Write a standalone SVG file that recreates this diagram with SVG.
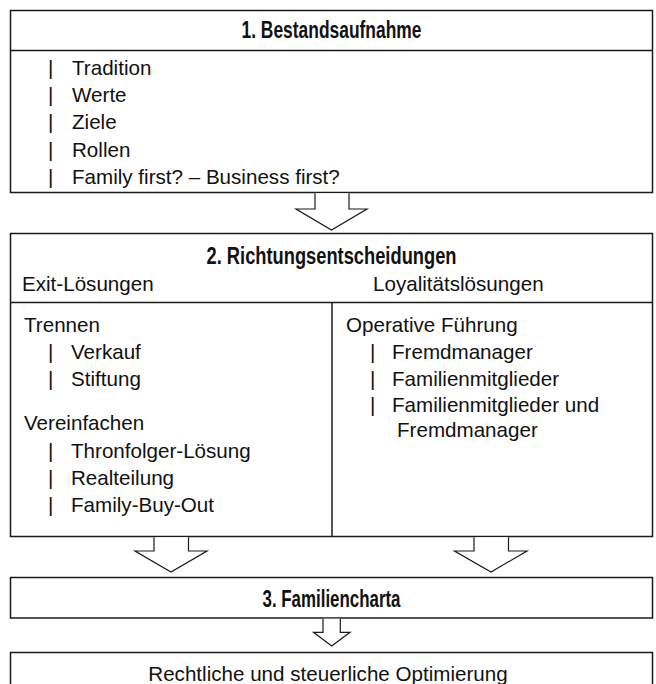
<svg xmlns="http://www.w3.org/2000/svg" width="656" height="684" viewBox="0 0 656 684">
<style>
.box{fill:#fff;stroke:#1a1a1a;stroke-width:1.5}
.ln{stroke:#1a1a1a;stroke-width:1.5;fill:none}
.arr{fill:#fff;stroke:#1a1a1a;stroke-width:1.2;stroke-linejoin:miter}
.t{font-family:"Liberation Sans",Arial,sans-serif;font-size:20.6px;fill:#111}
.h{font-family:"Liberation Sans Narrow","Liberation Sans",Arial,sans-serif;font-size:23px;font-weight:bold;fill:#111;text-anchor:middle}
</style>
<rect width="656" height="684" fill="#fff"/>
<g id="node-bestandsaufnahme">
<rect class="box" x="10.5" y="10.5" width="642" height="182"/>
<line class="ln" x1="10.5" y1="50.5" x2="652.5" y2="50.5"/>
<text class="h" x="331.5" y="38" textLength="180" lengthAdjust="spacingAndGlyphs">1. Bestandsaufnahme</text>
<text class="t" x="48" y="74.5">|</text><text class="t" x="72" y="74.5">Tradition</text>
<text class="t" x="48" y="101.7">|</text><text class="t" x="72" y="101.7">Werte</text>
<text class="t" x="48" y="129">|</text><text class="t" x="72" y="129">Ziele</text>
<text class="t" x="48" y="156.5">|</text><text class="t" x="72" y="156.5">Rollen</text>
<text class="t" x="48" y="184">|</text><text class="t" x="72" y="184">Family first? – Business first?</text>
</g>
<g id="node-richtungsentscheidungen">
<rect class="box" x="10.5" y="233.5" width="642" height="303"/>
<line class="ln" x1="10.5" y1="302.5" x2="652.5" y2="302.5"/>
<line class="ln" x1="332" y1="302.5" x2="332" y2="536.5"/>
<text class="h" x="331.5" y="264" textLength="250" lengthAdjust="spacingAndGlyphs">2. Richtungsentscheidungen</text>
<text class="t" x="22" y="290.7">Exit-Lösungen</text>
<text class="t" x="373" y="290.7">Loyalitätslösungen</text>
<text class="t" x="24" y="331.5">Trennen</text>
<text class="t" x="48" y="358.5">|</text><text class="t" x="71" y="358.5">Verkauf</text>
<text class="t" x="48" y="385.5">|</text><text class="t" x="71" y="385.5">Stiftung</text>
<text class="t" x="24" y="430">Vereinfachen</text>
<text class="t" x="48" y="457.5">|</text><text class="t" x="71" y="457.5">Thronfolger-Lösung</text>
<text class="t" x="48" y="484.5">|</text><text class="t" x="71" y="484.5">Realteilung</text>
<text class="t" x="48" y="511.5">|</text><text class="t" x="71" y="511.5">Family-Buy-Out</text>
<text class="t" x="346" y="332">Operative Führung</text>
<text class="t" x="370" y="359">|</text><text class="t" x="392" y="359">Fremdmanager</text>
<text class="t" x="370" y="385.5">|</text><text class="t" x="392" y="385.5">Familienmitglieder</text>
<text class="t" x="370" y="411.5">|</text><text class="t" x="392" y="411.5">Familienmitglieder und</text>
<text class="t" x="397" y="437">Fremdmanager</text>
</g>
<g id="node-familiencharta">
<rect class="box" x="10.5" y="577.5" width="642" height="40.5"/>
<text class="h" x="331.5" y="606.5" textLength="138" lengthAdjust="spacingAndGlyphs">3. Familiencharta</text>
</g>
<g id="node-optimierung">
<rect class="box" x="10.5" y="652.5" width="642" height="60"/>
<text class="t" x="328" y="680.5" text-anchor="middle">Rechtliche und steuerliche Optimierung</text>
</g>
<g id="connectors">
<path class="arr" d="M315,193.2 V209 H296 L331.5,230 L367,209 H349 V193.2"/>
<path class="arr" d="M154,537.2 V551 H135 L171,572 L207,551 H188.5 V537.2"/>
<path class="arr" d="M474,537.2 V551 H454.5 L491,572 L527,551 H508.5 V537.2"/>
<path class="arr" d="M323,618.7 V632.3 H313.5 L331.7,646 L350,632.3 H340.3 V618.7"/>
</g>
</svg>
